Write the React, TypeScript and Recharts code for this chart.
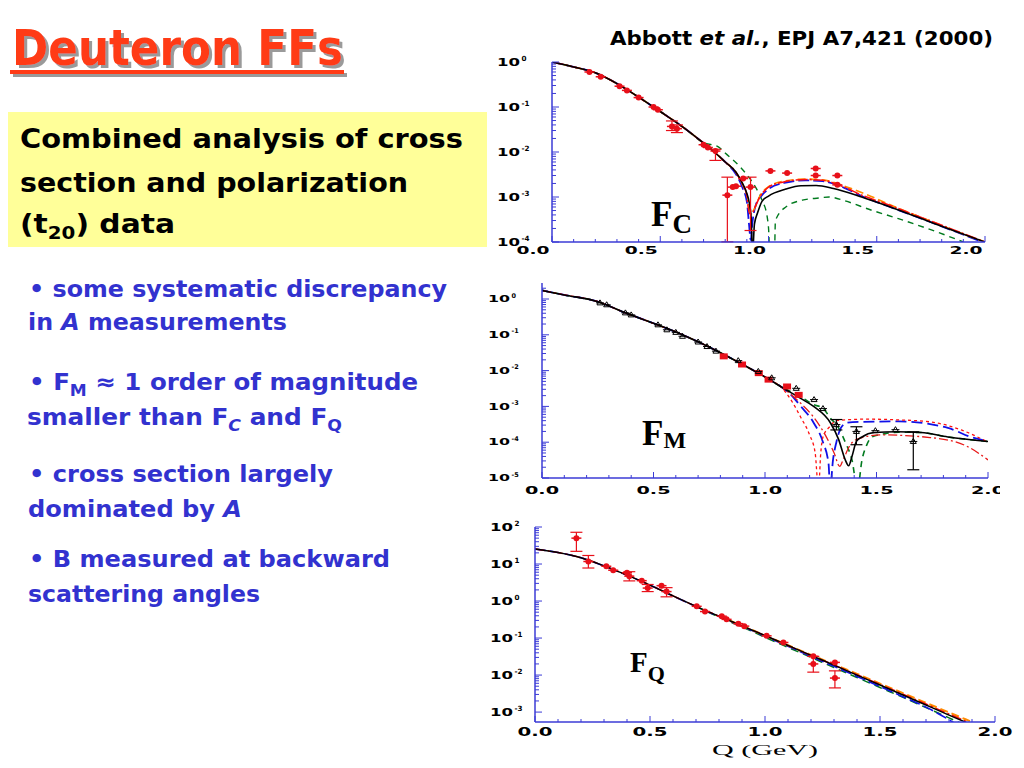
import React from 'react';
import { ComposedChart, Line, Scatter, XAxis, YAxis, ErrorBar } from 'recharts';

const FRAME = '#3b3bd6';
const RED = '#e8101a';
const BLUE_TXT = '#3232cf';

// ---------- shared x ticks ----------
const xTicks = [0, 0.1, 0.2, 0.3, 0.4, 0.5, 0.6, 0.7, 0.8, 0.9, 1.0, 1.1, 1.2, 1.3, 1.4, 1.5, 1.6, 1.7, 1.8, 1.9, 2.0];
const xMajors = [0, 0.5, 1.0, 1.5, 2.0];
const xMajorLabels = ['0.0', '0.5', '1.0', '1.5', '2.0'];

// ---------- F_C ----------
const fcYMajors = [1e-4, 1e-3, 1e-2, 1e-1, 1];
const fcYExps = ['-4', '-3', '-2', '-1', '0'];
const fcCommonQ = [0, 0.1, 0.2, 0.3, 0.4, 0.5, 0.6, 0.7, 0.75, 0.8];
const fcCommonV = [1.0, 0.776, 0.575, 0.331, 0.166, 0.0794, 0.0372, 0.0158, 0.01, 0.006];
const fcBlackQ = [0.85, 0.88, 0.9, 0.91, 0.92, 0.926, 0.935, 0.95, 0.97, 1.0, 1.08, 1.15, 1.22, 1.3, 1.43, 1.55, 1.7, 1.85, 2.0];
const fcBlackV = [3.55e-3, 2.0e-3, 1.2e-3, 7.9e-4, 3.5e-4, 5e-5, 2.5e-4, 4.5e-4, 8.0e-4, 1.05e-3, 1.5e-3, 1.78e-3, 1.8e-3, 1.55e-3, 1.0e-3, 6.3e-4, 3.4e-4, 1.82e-4, 1.0e-4];
const fcRedQ = [0.85, 0.88, 0.9, 0.905, 0.915, 0.925, 0.94, 0.96, 0.98, 1.0, 1.08, 1.17, 1.25, 1.35, 1.43, 1.55, 1.7, 1.85, 2.0];
const fcRedV = [3.5e-3, 1.9e-3, 1.12e-3, 6.5e-4, 4.2e-4, 4.4e-4, 6.3e-4, 1.0e-3, 1.35e-3, 1.66e-3, 2.2e-3, 2.45e-3, 2.35e-3, 1.66e-3, 1.1e-3, 6.8e-4, 3.6e-4, 1.9e-4, 1.0e-4];
const fcOrangeQ = [0.85, 0.88, 0.9, 0.91, 0.92, 0.935, 0.96, 1.0, 1.08, 1.17, 1.25, 1.35, 1.45, 1.6, 1.75, 1.9, 2.0];
const fcOrangeV = [3.5e-3, 1.9e-3, 1.1e-3, 7e-4, 4.4e-4, 5.5e-4, 1.05e-3, 1.7e-3, 2.3e-3, 2.5e-3, 2.4e-3, 1.75e-3, 1.15e-3, 5.6e-4, 2.9e-4, 1.5e-4, 1.0e-4];
const fcBlueQ = [0.85, 0.88, 0.9, 0.91, 0.918, 0.925, 0.94, 0.97, 1.0, 1.08, 1.17, 1.25, 1.35, 1.43, 1.55, 1.7, 1.85, 2.0];
const fcBlueV = [3.2e-3, 1.6e-3, 7.9e-4, 2.5e-4, 1.1e-4, 2.5e-4, 6.3e-4, 1.1e-3, 1.5e-3, 2.1e-3, 2.35e-3, 2.25e-3, 1.6e-3, 1.05e-3, 6.3e-4, 3.4e-4, 1.8e-4, 9.5e-5];
const fcGreenQ = [0, 0.1, 0.2, 0.3, 0.4, 0.5, 0.6, 0.7, 0.77, 0.8, 0.863, 0.909, 0.94, 0.97, 0.994, 1.0, 1.012, 1.025, 1.032, 1.08, 1.156, 1.233, 1.28, 1.35, 1.47, 1.6, 1.83, 1.9];
const fcGreenV = [1.0, 0.776, 0.575, 0.331, 0.166, 0.0794, 0.0372, 0.0162, 0.0129, 9.5e-3, 5.0e-3, 2.75e-3, 1.66e-3, 8.5e-4, 3.6e-4, 2.1e-4, 1e-5, 1e-5, 3.0e-4, 6.0e-4, 8.5e-4, 9.5e-4, 1.0e-3, 8.3e-4, 5.2e-4, 3.3e-4, 1.35e-4, 1.0e-4];
const fcPtQ = [0.173, 0.225, 0.312, 0.346, 0.4, 0.469, 0.489, 0.7, 0.72, 0.835, 0.85, 0.883, 1.009, 1.086, 1.218, 1.218, 1.318, 1.318];
const fcPtV = [0.6, 0.47, 0.29, 0.234, 0.162, 0.1, 0.087, 0.0145, 0.0126, 1.66e-3, 1.74e-3, 2.57e-3, 3.8e-3, 3.4e-3, 4.3e-3, 3.0e-3, 3.0e-3, 1.86e-3];
const fcErrQ = [0.554, 0.577, 0.755, 0.81, 0.917];
const fcErrV = [0.037, 0.033, 0.0105, 1.1e-3, 1.66e-3];
const fcErrLo = [0.03, 0.027, 6.5e-3, 1.01e-4, 1.8e-4];
const fcErrHi = [0.049, 0.04, 0.0115, 2.76e-3, 2.76e-3];

// ---------- F_M ----------
const fmYMajors = [1e-5, 1e-4, 1e-3, 1e-2, 1e-1, 1];
const fmYExps = ['-5', '-4', '-3', '-2', '-1', '0'];
const fmCommonQ = [0, 0.1, 0.247, 0.374, 0.5, 0.6, 0.695, 0.8, 0.9, 0.97, 1.02, 1.07];
const fmCommonV = [1.74, 1.3, 0.857, 0.41, 0.21, 0.12, 0.066, 0.0316, 0.0148, 8.5e-3, 5.6e-3, 3.6e-3];
const fmBlackQ = [1.158, 1.218, 1.293, 1.33, 1.36, 1.375, 1.39, 1.41, 1.435, 1.49, 1.59, 1.7, 1.82, 2.0];
const fmBlackV = [1.7e-3, 1.0e-3, 3.5e-4, 1.2e-4, 3.2e-5, 2.2e-5, 4e-5, 1.05e-4, 1.4e-4, 1.86e-4, 1.95e-4, 1.86e-4, 1.4e-4, 1.05e-4];
const fmBlueQ = [1.12, 1.158, 1.218, 1.26, 1.285, 1.292, 1.305, 1.32, 1.34, 1.37, 1.43, 1.6, 1.82, 1.93, 2.0];
const fmBlueV = [2.0e-3, 1.05e-3, 3.5e-4, 1e-4, 2.5e-5, 5e-6, 3.2e-5, 1e-4, 2.5e-4, 3.5e-4, 3.7e-4, 3.8e-4, 2.5e-4, 1.35e-4, 1.05e-4];
const fmDotQ = [1.12, 1.16, 1.2, 1.225, 1.24, 1.25, 1.26, 1.29, 1.32, 1.45, 1.6, 1.74, 1.88, 2.0];
const fmDotV = [1.4e-3, 5e-4, 1.6e-4, 5e-5, 5e-6, 5e-5, 1.4e-4, 2.7e-4, 4.0e-4, 4.4e-4, 4.2e-4, 3.7e-4, 2.2e-4, 1.0e-4];
const fmDashDotQ = [1.158, 1.218, 1.27, 1.31, 1.335, 1.35, 1.38, 1.42, 1.52, 1.74, 1.9, 2.0];
const fmDashDotV = [1.26e-3, 5e-4, 1.6e-4, 5e-5, 2.1e-5, 3.2e-5, 8e-5, 1.26e-4, 1.6e-4, 1.35e-4, 8e-5, 3.2e-5];
const fmGreenQ = [1.158, 1.218, 1.26, 1.29, 1.33, 1.36, 1.39, 1.415, 1.435, 1.455, 1.48, 1.54, 1.6, 1.7, 1.82, 2.0];
const fmGreenV = [1.9e-3, 1.12e-3, 8.9e-4, 5e-4, 2.5e-4, 1e-4, 3.2e-5, 5e-6, 3.2e-5, 8e-5, 1.4e-4, 1.74e-4, 1.9e-4, 1.86e-4, 1.4e-4, 1.05e-4];
const fmBlkPtQ = [0.26, 0.29, 0.374, 0.4, 0.52, 0.56, 0.6, 0.63, 0.7, 0.74, 0.78, 0.88, 0.97, 1.03, 1.14, 1.22, 1.26, 1.495, 1.585];
const fmBlkPtV = [0.78, 0.69, 0.41, 0.36, 0.19, 0.138, 0.117, 0.091, 0.063, 0.047, 0.035, 0.019, 9.5e-3, 6.3e-3, 3.2e-3, 1.55e-3, 8.7e-4, 2.1e-4, 2.24e-4];
const fmErrQ = [1.32, 1.41, 1.665];
const fmErrV = [3.1e-4, 2.0e-4, 1.05e-4];
const fmErrLo = [2.2e-4, 8.5e-5, 1.7e-5];
const fmErrHi = [4.3e-4, 2.7e-4, 1.95e-4];
const fmRedPtQ = [0.815, 0.897, 0.972, 1.016, 1.099, 1.151];
const fmRedPtV = [0.025, 0.0148, 8.5e-3, 5.6e-3, 3.6e-3, 2.1e-3];

// ---------- F_Q ----------
const fqYMajors = [1e-3, 1e-2, 1e-1, 1, 10, 100];
const fqYExps = ['-3', '-2', '-1', '0', '1', '2'];
const fqQ = [0, 0.1, 0.2, 0.3, 0.4, 0.5, 0.6, 0.7, 0.8, 0.9, 1.0, 1.1, 1.2, 1.3, 1.4, 1.5, 1.6, 1.7, 1.8, 1.9];
const fqBlackV = [25.4, 20.4, 14.8, 8.9, 5.0, 2.7, 1.38, 0.72, 0.389, 0.214, 0.117, 0.063, 0.034, 0.0186, 0.01, 5.4e-3, 2.9e-3, 1.55e-3, 8.3e-4, 4.5e-4];
const fqRedV = [25.4, 20.4, 14.8, 8.9, 5.0, 2.7, 1.38, 0.72, 0.39, 0.214, 0.117, 0.063, 0.034, 0.0188, 0.0102, 5.6e-3, 3.05e-3, 1.65e-3, 8.9e-4, 4.8e-4];
const fqOrangeQ = [0.8, 0.9, 1.0, 1.1, 1.2, 1.3, 1.4, 1.5, 1.6, 1.7, 1.8, 1.9];
const fqOrangeV = [0.39, 0.215, 0.118, 0.064, 0.035, 0.0195, 0.0108, 5.9e-3, 3.25e-3, 1.78e-3, 9.8e-4, 5.4e-4];
const fqBlueQ = [0, 0.1, 0.2, 0.3, 0.4, 0.5, 0.6, 0.7, 0.8, 0.9, 1.0, 1.1, 1.2, 1.3, 1.4, 1.5, 1.6, 1.7, 1.8, 1.85];
const fqBlueV = [25.4, 20.4, 14.8, 8.9, 5.0, 2.7, 1.37, 0.71, 0.38, 0.208, 0.112, 0.06, 0.032, 0.0172, 9.2e-3, 4.9e-3, 2.6e-3, 1.36e-3, 6.2e-4, 4.0e-4];
const fqGreenQ = [0.7, 0.8, 0.9, 1.0, 1.1, 1.2, 1.3, 1.4, 1.5, 1.6, 1.7, 1.8, 1.85];
const fqGreenV = [0.71, 0.37, 0.2, 0.105, 0.056, 0.03, 0.016, 8.6e-3, 4.6e-3, 2.5e-3, 1.32e-3, 7.0e-4, 5.0e-4];
const fqPtQ = [0.31, 0.34, 0.4, 0.464, 0.55, 0.703, 0.739, 0.812, 0.833, 0.884, 0.91, 1.007, 1.08, 1.21, 1.304];
const fqPtV = [8.7, 6.8, 5.8, 3.55, 2.6, 0.72, 0.52, 0.39, 0.32, 0.245, 0.21, 0.115, 0.076, 0.032, 0.022];
const fqErrQ = [0.18, 0.232, 0.41, 0.49, 0.572, 1.21, 1.304];
const fqErrV = [50, 11.7, 4.7, 2.24, 1.8, 0.02, 8.3e-3];
const fqErrLo = [22, 7.8, 3.5, 1.8, 1.3, 0.012, 4.5e-3];
const fqErrHi = [72, 17, 6.2, 2.8, 2.3, 0.032, 0.013];

// ---------- helpers ----------
type Pt = { q: number; v: number; e?: number[] };
const toPts = (q: number[], v: number[]): Pt[] => q.map((x, i) => ({ q: x, v: v[i] }));
const toErrPts = (q: number[], v: number[], lo: number[], hi: number[]): Pt[] =>
  q.map((x, i) => ({ q: x, v: v[i], e: [v[i] - lo[i], hi[i] - v[i]] }));

const minorTicks = (majors: number[], lo: number, hi: number) => {
  const out: number[] = [];
  majors.forEach((d) => {
    [2, 3, 4, 5, 6, 7, 8, 9].forEach((k) => {
      const t = d * k;
      if (t > lo && t < hi) out.push(t);
    });
  });
  return out;
};

type Curve = { data: Pt[]; stroke: string; dash?: string; width?: number };
type PtSet = { data: Pt[]; shape: 'dot' | 'square' | 'tri'; color: string; err?: boolean };

type PanelProps = {
  left: number; top: number; width: number; height: number;
  mTop: number; mRight: number; yW: number; xH: number;
  yDomain: [number, number]; yMajors: number[]; yExps: string[];
  yGap: number; yLabW: number; yFont: number;
  xLabDx: number; xLabDy: number; xLabW: number; xFont: number;
  curves: Curve[]; points: PtSet[];
};

const shapeFn = (kind: string, color: string) => (s: any) => {
  const { cx, cy } = s;
  if (cx == null || cy == null) return <g />;
  if (kind === 'square') return <rect x={cx - 4} y={cy - 3} width={8} height={6} fill={color} />;
  if (kind === 'tri')
    return (
      <g>
        <path d={`M${cx - 3},${cy + 2} L${cx + 3},${cy + 2} L${cx},${cy - 3} Z`} fill="none" stroke={color} strokeWidth={1} />
        <line x1={cx - 4} y1={cy} x2={cx + 4} y2={cy} stroke={color} strokeWidth={1} />
      </g>
    );
  return (
    <g>
      <circle cx={cx} cy={cy} r={3} fill={color} />
      <line x1={cx - 5} y1={cy} x2={cx + 5} y2={cy} stroke={color} strokeWidth={1.5} />
    </g>
  );
};

function Panel(p: PanelProps) {
  const [y0, y1] = p.yDomain;
  const yTicks = [...p.yMajors.filter((t) => t >= y0 && t <= y1), ...minorTicks(p.yMajors, y0, y1)];
  const isMajorX = (v: number) => xMajors.indexOf(v);

  const yLeft = (t: any) => {
    const i = p.yMajors.indexOf(t.payload.value);
    const major = i >= 0;
    return (
      <g>
        <line x1={t.x} y1={t.y} x2={t.x + (major ? 7 : 4)} y2={t.y} stroke={FRAME} strokeWidth={1} />
        {major ? (
          <g fontFamily="DejaVu Sans" fontWeight="bold" fill="#000">
            <text x={t.x - p.yGap - p.yLabW} y={t.y + p.yFont * 0.36} fontSize={p.yFont} textLength={p.yLabW} lengthAdjust="spacingAndGlyphs">10</text>
            <text x={t.x - p.yGap + 1.5} y={t.y - p.yFont * 0.15} fontSize={p.yFont * 0.72}>{p.yExps[i]}</text>
          </g>
        ) : null}
      </g>
    );
  };
  const yRight = (t: any) => {
    const major = p.yMajors.indexOf(t.payload.value) >= 0;
    return <line x1={t.x} y1={t.y} x2={t.x - (major ? 7 : 4)} y2={t.y} stroke={FRAME} strokeWidth={1} />;
  };
  const xBottom = (t: any) => {
    const i = isMajorX(t.payload.value);
    const major = i >= 0;
    return (
      <g>
        <line x1={t.x} y1={t.y} x2={t.x} y2={t.y - (major ? 6 : 3)} stroke={FRAME} strokeWidth={1} />
        {major ? (
          <text x={t.x + p.xLabDx - p.xLabW / 2} y={t.y + p.xLabDy} fontSize={p.xFont} fontFamily="DejaVu Sans" fontWeight="bold" fill="#000" textLength={p.xLabW} lengthAdjust="spacingAndGlyphs">
            {xMajorLabels[i]}
          </text>
        ) : null}
      </g>
    );
  };
  const xTop = (t: any) => {
    const major = isMajorX(t.payload.value) >= 0;
    return <line x1={t.x} y1={t.y} x2={t.x} y2={t.y + (major ? 6 : 3)} stroke={FRAME} strokeWidth={1} />;
  };

  return (
    <div style={{ position: 'absolute', left: p.left, top: p.top, width: p.width, height: p.height }}>
      <ComposedChart width={p.width} height={p.height} margin={{ top: p.mTop, right: p.mRight, bottom: 0, left: 0 }} style={{ overflow: 'visible' }}>
        <XAxis dataKey="q" type="number" domain={[0, 2]} ticks={xTicks} interval={0} height={p.xH}
          tickSize={0} tickMargin={0} tickLine={false} axisLine={{ stroke: FRAME, strokeWidth: 1.5 }} tick={xBottom} allowDataOverflow />
        <XAxis xAxisId="t" orientation="top" dataKey="q" type="number" domain={[0, 2]} ticks={xTicks} interval={0} height={0}
          tickSize={0} tickMargin={0} tickLine={false} axisLine={{ stroke: FRAME, strokeWidth: 1.5 }} tick={xTop} allowDataOverflow />
        <YAxis type="number" scale="log" domain={p.yDomain} allowDataOverflow ticks={yTicks} interval={0} width={p.yW}
          tickSize={0} tickMargin={0} tickLine={false} axisLine={{ stroke: FRAME, strokeWidth: 1.5 }} tick={yLeft} />
        <YAxis yAxisId="r" orientation="right" type="number" scale="log" domain={p.yDomain} allowDataOverflow ticks={yTicks} interval={0} width={0}
          tickSize={0} tickMargin={0} tickLine={false} axisLine={{ stroke: FRAME, strokeWidth: 1.5 }} tick={yRight} />
        {p.curves.map((c, i) => (
          <Line key={'c' + i} data={c.data} dataKey="v" type="monotone" dot={false} activeDot={false}
            stroke={c.stroke} strokeWidth={c.width ?? 1.4} strokeDasharray={c.dash} isAnimationActive={false} />
        ))}
        {p.points.map((s, i) => (
          <Scatter key={'s' + i} data={s.data} dataKey="v" shape={shapeFn(s.shape, s.color)} isAnimationActive={false}>
            {s.err ? <ErrorBar dataKey="e" direction="y" width={6} stroke={s.color} strokeWidth={1.2} /> : null}
          </Scatter>
        ))}
      </ComposedChart>
    </div>
  );
}

const fcCurves: Curve[] = [
  { data: toPts(fcGreenQ, fcGreenV), stroke: '#007a1e', dash: '6 5' },
  { data: toPts([...fcCommonQ, ...fcBlueQ], [...fcCommonV, ...fcBlueV]), stroke: '#1010e8', dash: '11 4', width: 1.8 },
  { data: toPts([...fcCommonQ, ...fcOrangeQ], [...fcCommonV, ...fcOrangeV]), stroke: '#ff8c00', dash: '8 4', width: 1.6 },
  { data: toPts([...fcCommonQ, ...fcRedQ], [...fcCommonV, ...fcRedV]), stroke: '#ff1010', dash: '12 2 2 2', width: 1.6 },
  { data: toPts([...fcCommonQ, ...fcBlackQ], [...fcCommonV, ...fcBlackV]), stroke: '#000', width: 1.6 },
];
const fcPoints: PtSet[] = [
  { data: toPts(fcPtQ, fcPtV), shape: 'dot', color: RED },
  { data: toErrPts(fcErrQ, fcErrV, fcErrLo, fcErrHi), shape: 'dot', color: RED, err: true },
];

const fmCurves: Curve[] = [
  { data: toPts([...fmCommonQ, ...fmGreenQ], [...fmCommonV, ...fmGreenV]), stroke: '#007a1e', dash: '6 5', width: 1.6 },
  { data: toPts([...fmCommonQ, ...fmBlueQ], [...fmCommonV, ...fmBlueV]), stroke: '#1010e8', dash: '11 5', width: 1.8 },
  { data: toPts([...fmCommonQ, ...fmDotQ], [...fmCommonV, ...fmDotV]), stroke: '#ff1010', dash: '3 3', width: 1.3 },
  { data: toPts([...fmCommonQ, ...fmDashDotQ], [...fmCommonV, ...fmDashDotV]), stroke: '#e81818', dash: '9 3 2 3', width: 1.3 },
  { data: toPts([...fmCommonQ, ...fmBlackQ], [...fmCommonV, ...fmBlackV]), stroke: '#000', width: 1.6 },
];
const fmPoints: PtSet[] = [
  { data: toPts(fmRedPtQ, fmRedPtV), shape: 'square', color: RED },
  { data: toPts(fmBlkPtQ, fmBlkPtV), shape: 'tri', color: '#000' },
  { data: toErrPts(fmErrQ, fmErrV, fmErrLo, fmErrHi), shape: 'tri', color: '#000', err: true },
];

const fqCurves: Curve[] = [
  { data: toPts(fqGreenQ, fqGreenV), stroke: '#007a1e', dash: '8 5', width: 1.5 },
  { data: toPts(fqBlueQ, fqBlueV), stroke: '#1010e8', dash: '11 4', width: 1.6 },
  { data: toPts(fqOrangeQ, fqOrangeV), stroke: '#ff8c00', dash: '8 4', width: 2 },
  { data: toPts(fqQ, fqRedV), stroke: '#ff1010', dash: '10 3 2 3', width: 1.5 },
  { data: toPts(fqQ, fqBlackV), stroke: '#000', width: 1.5 },
];
const fqPoints: PtSet[] = [
  { data: toPts(fqPtQ, fqPtV), shape: 'dot', color: RED },
  { data: toErrPts(fqErrQ, fqErrV, fqErrLo, fqErrHi), shape: 'dot', color: RED, err: true },
];

const SANS = 'DejaVu Sans';

function Overlay() {
  return (
    <svg width={1024} height={768} style={{ position: 'absolute', left: 0, top: 0 }}>
      <defs>
        <filter id="titleShadow" x="-5%" y="-20%" width="115%" height="150%">
          <feDropShadow dx="3" dy="3" stdDeviation="0.6" floodColor="#9a9a9a" floodOpacity="1" />
        </filter>
      </defs>
      <rect x={8} y={112} width={479} height={135} fill="#ffff99" />
      {/* title */}
      <g fontFamily={SANS} fontWeight="bold" fontSize={50} filter="url(#titleShadow)">
        <text x={12} y={65} fill="#ff3a12" textLength={331} lengthAdjust="spacingAndGlyphs">Deuteron FFs</text>
        <rect x={10} y={70} width={334} height={4} fill="#ff3a12" />
      </g>
      {/* reference */}
      <text x={610} y={45} fontFamily={SANS} fontWeight="bold" fontSize={19} fill="#000" textLength={383} lengthAdjust="spacingAndGlyphs">
        Abbott <tspan fontStyle="italic">et al.</tspan>, EPJ A7,421 (2000)
      </text>
      {/* yellow box text */}
      <g fontFamily={SANS} fontWeight="bold" fontSize={27} fill="#000">
        <text x={20} y={148} textLength={443} lengthAdjust="spacingAndGlyphs">Combined analysis of cross</text>
        <text x={20} y={192} textLength={388} lengthAdjust="spacingAndGlyphs">section and polarization</text>
        <text x={20} y={233} textLength={155} lengthAdjust="spacingAndGlyphs">
          (t<tspan fontSize={18} dy={6}>20</tspan><tspan dy={-6}>) data</tspan>
        </text>
      </g>
      {/* bullets */}
      <g fontFamily={SANS} fontWeight="bold" fontSize={23} fill={BLUE_TXT}>
        <text x={29} y={297} textLength={418} lengthAdjust="spacingAndGlyphs">• some systematic discrepancy</text>
        <text x={28} y={330} textLength={259} lengthAdjust="spacingAndGlyphs">
          in <tspan fontStyle="italic">A</tspan> measurements
        </text>
        <text x={29} y={390} textLength={389} lengthAdjust="spacingAndGlyphs">
          • F<tspan fontSize={16} dy={6}>M</tspan><tspan dy={-6}> ≈ 1 order of magnitude</tspan>
        </text>
        <text x={27} y={425} textLength={315} lengthAdjust="spacingAndGlyphs">
          smaller than F<tspan fontSize={16} dy={6} fontStyle="italic">C</tspan><tspan dy={-6}> and F</tspan><tspan fontSize={16} dy={6}>Q</tspan>
        </text>
        <text x={29} y={482} textLength={304} lengthAdjust="spacingAndGlyphs">• cross section largely</text>
        <text x={28} y={517} textLength={214} lengthAdjust="spacingAndGlyphs">
          dominated by <tspan fontStyle="italic">A</tspan>
        </text>
        <text x={29} y={567} textLength={361} lengthAdjust="spacingAndGlyphs">• B measured at backward</text>
        <text x={28} y={602} textLength={232} lengthAdjust="spacingAndGlyphs">scattering angles</text>
      </g>
      {/* panel labels */}
      <g fontFamily="Liberation Serif" fontWeight="bold" fill="#000">
        <text x={651} y={226} fontSize={35}>F<tspan fontSize={27} dy={7}>C</tspan></text>
        <text x={642} y={445} fontSize={35}>F<tspan fontSize={24} dy={3}>M</tspan></text>
        <text x={630} y={672} fontSize={29}>F<tspan fontSize={22} dy={9}>Q</tspan></text>
      </g>
      <text x={765} y={755} textAnchor="middle" fontFamily="Liberation Serif" fontSize={14} fill="#000" textLength={106} lengthAdjust="spacingAndGlyphs">Q (GeV)</text>
    </svg>
  );
}

export default function App() {
  return (
    <div style={{ position: 'absolute', left: 0, top: 0, width: 1024, height: 768, background: '#fff', overflow: 'hidden' }}>
      <Overlay />
      <Panel left={480} top={50} width={520} height={215} mTop={12} mRight={15} yW={72} xH={23}
        yDomain={[1e-4, 1]} yMajors={fcYMajors} yExps={fcYExps} yGap={32} yLabW={23} yFont={10}
        xLabDx={-19} xLabDy={12} xLabW={33} xFont={10} curves={fcCurves} points={fcPoints} />
      <Panel left={480} top={275} width={520} height={230} mTop={8} mRight={12} yW={62} xH={27}
        yDomain={[1e-5, 2.8]} yMajors={fmYMajors} yExps={fmYExps} yGap={32} yLabW={22} yFont={9}
        xLabDx={0} xLabDy={16} xLabW={34} xFont={10} curves={fmCurves} points={fmPoints} />
      <Panel left={480} top={515} width={544} height={253} mTop={12} mRight={29} yW={55} xH={46}
        yDomain={[5.4e-4, 100]} yMajors={fqYMajors} yExps={fqYExps} yGap={22} yLabW={23} yFont={10}
        xLabDx={0} xLabDy={14} xLabW={35} xFont={12} curves={fqCurves} points={fqPoints} />
    </div>
  );
}
